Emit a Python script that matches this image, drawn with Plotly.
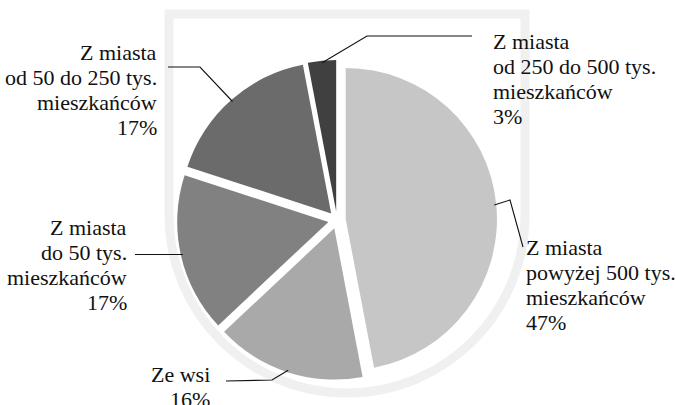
import math

import plotly.graph_objects as go

# slices, clockwise from 12 o'clock
labels = [
    "Z miasta powyżej 500 tys. mieszkańców",
    "Ze wsi",
    "Z miasta do 50 tys. mieszkańców",
    "Z miasta od 50 do 250 tys. mieszkańców",
    "Z miasta od 250 do 500 tys. mieszkańców",
]
values = [47, 16, 17, 17, 3]
label_lines = [
    ["Z miasta", "powyżej 500 tys.", "mieszkańców", "47%"],
    ["Ze wsi", "16%"],
    ["Z miasta", "do 50 tys.", "mieszkańców", "17%"],
    ["Z miasta", "od 50 do 250 tys.", "mieszkańców", "17%"],
    ["Z miasta", "od 250 do 500 tys.", "mieszkańców", "3%"],
]
colors = ["#c6c6c6", "#a9a9a9", "#818181", "#6b6b6b", "#404040"]

W, H = 676, 405
PULL = 0.058
CX, CY = 337, 220          # pie centre in pixels
R_OUT = 160                # radius incl. pull
R_LEAD = 158
LINE_STEP = 25.3

# per label: leader elbow points, text anchor x / first line y
leaders = [
    dict(pts=[(510, 200), (523, 247)], x=524, y=247, xa="left"),
    dict(pts=[(272, 380), (226, 381)], x=212, y=374, xa="right"),
    dict(pts=[(135, None)], x=129, y=227, xa="right"),
    dict(pts=[(200, 67), (168, 67)], x=159, y=52, xa="right"),
    dict(pts=[(367, 36), (472, 36)], x=491, y=41, xa="left"),
]

FONT = "Liberation Serif, Times New Roman, serif"

fig = go.Figure()
fig.add_trace(
    go.Pie(
        labels=labels,
        values=values,
        sort=False,
        direction="clockwise",
        rotation=0,
        pull=PULL,
        marker=dict(colors=colors, line=dict(width=0)),
        textinfo="none",
        hoverinfo="label+percent",
        showlegend=False,
        domain=dict(
            x=[(CX - 200) / W, (CX + 200) / W],
            y=[1 - (CY + R_OUT) / H, 1 - (CY - R_OUT) / H],
        ),
    )
)

# leader lines start at each slice's mid angle
shapes = []
annotations = []
total = sum(values)
acc = 0
for v, lines, ld in zip(values, label_lines, leaders):
    mid = (acc + v / 2) / total * 2 * math.pi
    acc += v
    sx = CX + R_LEAD * math.sin(mid)
    sy = CY - R_LEAD * math.cos(mid)
    path = f"M {sx:.1f},{sy:.1f}"
    for px, py in ld["pts"]:
        path += f" L {px},{sy if py is None else py:.1f}"
    shapes.append(dict(type="path", path=path, xref="x", yref="y",
                       line=dict(color="#111", width=1.1), layer="above"))
    for i, line in enumerate(lines):
        annotations.append(dict(
            x=ld["x"], y=ld["y"] + i * LINE_STEP, xref="x", yref="y",
            text=line, showarrow=False,
            xanchor=ld["xa"], yanchor="middle",
            font=dict(family=FONT, size=22, color="#111"),
        ))

# faint shield watermark behind the pie (bottom half drawn with beziers)
k = 0.5523 * 178
wm = (f"M 169,215 L 169,14 L 525,14 L 525,215 "
      f"C 525,{215 + k:.1f} {347 + k:.1f},393 347,393 "
      f"C {347 - k:.1f},393 169,{215 + k:.1f} 169,215")
shapes.insert(0, dict(type="path", path=wm, xref="x", yref="y",
                      line=dict(color="#f0f0f0", width=9), layer="below"))

fig.update_layout(
    width=W,
    height=H,
    margin=dict(l=0, r=0, t=0, b=0),
    paper_bgcolor="white",
    plot_bgcolor="rgba(0,0,0,0)",
    font=dict(family=FONT),
    xaxis=dict(range=[0, W], visible=False, fixedrange=True),
    yaxis=dict(range=[H, 0], visible=False, fixedrange=True),
    shapes=shapes,
    annotations=annotations,
)

fig.write_html(
    "out.html",
    config={"displayModeBar": False},
    post_script="document.body.style.margin = '0';",
)
